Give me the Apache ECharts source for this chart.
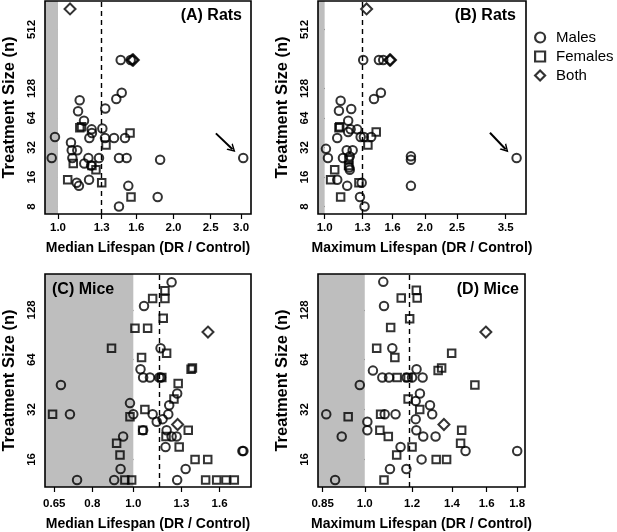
<!DOCTYPE html>
<html><head><meta charset="utf-8">
<script src="https://cdn.jsdelivr.net/npm/echarts@6/dist/echarts.min.js"></script>
<style>html,body{margin:0;padding:0;background:#fff}#c{width:617px;height:532px}</style>
</head><body><div id="c"></div>
<script>
// ---------- DATA (x = lifespan ratio DR/Control, n = treatment size) ----------
// (A) Rats, median lifespan
const ratsMedMalesX = [1.457, 1.547, 1.466, 1.419, 1.139, 1.128, 1.328, 1.169, 1.224, 1.226, 1.305, 0.982, 1.081, 1.207, 1.326, 1.400, 1.495, 1.086, 1.123, 0.963, 1.090, 1.200, 1.279, 1.442, 1.510, 1.846, 3.040, 1.171, 1.220, 1.119, 1.134, 1.205, 1.525, 1.819, 1.442];
const ratsMedMalesN = [250, 250, 116, 100, 97, 75, 80, 60, 49, 45, 50, 41, 36, 40, 40, 40, 40, 30, 30, 25, 25, 25, 25, 25, 25, 24, 25, 22, 21, 14, 13, 15, 13, 10, 8];
const ratsMedFemalesX = [1.140, 1.152, 1.541, 1.334, 1.096, 1.226, 1.256, 1.060, 1.300, 1.550];
const ratsMedFemalesN = [51, 52, 45, 34, 22, 21, 19, 15, 14, 10];
const ratsMedBothX = [1.075, 1.562, 1.572];
const ratsMedBothN = [830, 250, 250];
// (B) Rats, maximum lifespan
const ratsMaxMalesX = [1.306, 1.456, 1.500, 1.476, 1.407, 1.117, 1.104, 1.202, 1.177, 1.177, 1.197, 1.253, 1.091, 1.283, 1.312, 1.380, 1.009, 1.165, 1.214, 1.023, 1.135, 1.190, 1.186, 1.190, 1.091, 1.169, 1.292, 1.277, 1.318, 1.817, 1.817, 1.817, 3.776];
const ratsMaxMalesN = [250, 250, 250, 116, 100, 96, 76, 79, 60, 46, 49, 49, 40, 41, 41, 41, 31, 30, 30, 25, 25, 26, 20, 19, 15, 13, 14, 10, 8, 26, 24, 13, 25];
const ratsMaxFemalesX = [1.104, 1.110, 1.429, 1.349, 1.183, 1.180, 1.072, 1.042, 1.268, 1.117];
const ratsMaxFemalesN = [51, 52, 46, 34, 24, 21, 19, 15, 14, 10];
const ratsMaxBothX = [1.337, 1.568, 1.578];
const ratsMaxBothN = [830, 250, 250];
// (C) Mice, median lifespan
const miceMedMalesX = [1.232, 1.060, 1.160, 1.040, 1.055, 1.095, 1.152, 1.163, 0.674, 1.270, 1.216, 1.210, 1.173, 1.136, 1.111, 1.000, 0.982, 0.708, 1.199, 1.232, 1.266, 1.055, 0.946, 1.192, 1.812, 1.822, 0.933, 1.330, 0.736, 0.901, 1.270];
const miceMedMalesN = [188, 135, 75, 56, 50, 50, 50, 50, 45, 40, 34, 30, 28, 27, 30, 30, 35, 30, 24, 22, 22, 24, 22, 19, 18, 18, 14, 14, 12, 12, 12];
const miceMedFemalesX = [1.188, 1.111, 1.188, 1.177, 1.009, 1.081, 0.888, 1.046, 1.199, 1.370, 1.380, 1.168, 1.277, 1.248, 1.065, 0.644, 0.982, 1.052, 1.195, 1.349, 1.284, 0.913, 0.930, 1.400, 1.500, 0.955, 0.991, 1.483, 1.575, 1.657, 1.734];
const miceMedFemalesN = [167, 150, 150, 114, 99, 99, 75, 66, 70, 56, 57, 50, 46, 37, 32, 30, 29, 24, 22, 24, 19, 20, 17, 16, 16, 12, 12, 12, 12, 12, 12];
const miceMedBothX = [1.502, 1.273];
const miceMedBothN = [94, 26];
// (D) Mice, maximum lifespan
const miceMaxMalesX = [1.074, 1.077, 1.112, 1.032, 1.070, 1.098, 1.175, 1.200, 1.250, 1.221, 0.981, 1.237, 1.217, 1.286, 1.297, 1.217, 0.862, 1.080, 1.126, 1.010, 1.010, 1.220, 1.253, 1.314, 0.915, 1.148, 1.245, 1.475, 1.102, 1.174, 0.892, 1.800];
const miceMaxMalesN = [189, 135, 75, 55, 50, 50, 50, 50, 50, 56, 45, 40, 36, 34, 30, 28, 30, 30, 30, 27, 24, 24, 22, 22, 22, 19, 16, 18, 14, 14, 12, 18];
const miceMaxFemalesX = [1.220, 1.151, 1.224, 1.189, 1.105, 1.047, 1.123, 1.398, 1.327, 1.345, 1.133, 1.182, 1.529, 1.182, 1.236, 0.938, 1.063, 1.060, 1.095, 1.453, 1.447, 1.200, 1.131, 1.317, 1.371, 1.077];
const miceMaxFemalesN = [168, 151, 151, 113, 100, 75, 66, 70, 55, 57, 50, 50, 45, 37, 32, 29, 30, 24, 22, 24, 20, 19, 17, 16, 16, 12];
const miceMaxBothX = [1.595, 1.357];
const miceMaxBothN = [94, 26];

// reference lines (DR/Control) and outlier arrows [start, end] as [ratio, n]
const ratsMedDash = 1.3, ratsMaxDash = 1.3, miceMedDash = 1.15, miceMaxDash = 1.18;
const ratsMedArrow = [[2.58, 44.6], [2.85, 30.7]];
const ratsMaxArrow = [[3.14, 45.3], [3.50, 30.7]];

// tick values
const ratsMedTicks = [1.0, 1.3, 1.6, 2.0, 2.5, 3.0];
const ratsMaxTicks = [1.0, 1.3, 1.6, 2.0, 2.5, 3.5];
const miceMedTicks = [0.65, 0.8, 1.0, 1.3, 1.6];
const miceMaxTicks = [0.85, 1.0, 1.2, 1.4, 1.6, 1.8];
const ratsNTicks = [8, 16, 32, 64, 128, 512];
const miceNTicks = [16, 32, 64, 128];

const legendNames = ['Males', 'Females', 'Both'];
const panelTitles = ['(A) Rats', '(B) Rats', '(C) Mice', '(D) Mice'];
const xNames = ['Median Lifespan (DR / Control)', 'Maximum Lifespan (DR / Control)', 'Median Lifespan (DR / Control)', 'Maximum Lifespan (DR / Control)'];
const yName = 'Treatment Size (n)';

// ---------- LAYOUT / STYLE ----------
const FONT = '"Liberation Sans", Arial, Helvetica, sans-serif';
const lab = t => (Math.round(t * 100) % 10 ? t.toFixed(2) : t.toFixed(1));
const pts = (xs, ns) => xs.map((x, i) => [Math.log(x), Math.log2(ns[i])]);

const panels = [
  { grid: { left: 45, top: 1, width: 206, height: 213 }, xr: [0.925, 3.185], yr: [6.71, 1000], xt: ratsMedTicks, yt: ratsNTicks,
    m: [ratsMedMalesX, ratsMedMalesN], f: [ratsMedFemalesX, ratsMedFemalesN], b: [ratsMedBothX, ratsMedBothN], dash: ratsMedDash, arrow: ratsMedArrow, lm: 8, ng: 27 },
  { grid: { left: 318, top: 1, width: 208, height: 213 }, xr: [0.955, 4.03], yr: [6.71, 1000], xt: ratsMaxTicks, yt: ratsNTicks,
    m: [ratsMaxMalesX, ratsMaxMalesN], f: [ratsMaxFemalesX, ratsMaxFemalesN], b: [ratsMaxBothX, ratsMaxBothN], dash: ratsMaxDash, arrow: ratsMaxArrow, lm: 8, ng: 27 },
  { grid: { left: 45, top: 274, width: 206, height: 214 }, xr: [0.618, 1.899], yr: [10.9, 210.8], xt: miceMedTicks, yt: miceNTicks,
    m: [miceMedMalesX, miceMedMalesN], f: [miceMedFemalesX, miceMedFemalesN], b: [miceMedBothX, miceMedBothN], dash: miceMedDash, arrow: null, lm: 11, ng: 30 },
  { grid: { left: 318, top: 274, width: 207, height: 214 }, xr: [0.835, 1.855], yr: [10.9, 210.8], xt: miceMaxTicks, yt: miceNTicks,
    m: [miceMaxMalesX, miceMaxMalesN], f: [miceMaxFemalesX, miceMaxFemalesN], b: [miceMaxBothX, miceMaxBothN], dash: miceMaxDash, arrow: null, lm: 11, ng: 30 }
];

const titlePos = [
  { right: 617 - 242, top: 8 },
  { right: 617 - 516, top: 8 },
  { left: 52, top: 282 },
  { right: 617 - 519, top: 282 }
];

const hollow = { color: 'rgba(0,0,0,0)', borderColor: '#000', borderWidth: 2 };
const option = { animation: false, backgroundColor: '#fff', grid: [], xAxis: [], yAxis: [], series: [], title: [] };

panels.forEach((p, i) => {
  option.grid.push(Object.assign({ show: true, z: 5, backgroundColor: 'rgba(0,0,0,0)', borderColor: '#000', borderWidth: 1.6 }, p.grid));
  const xTickVals = p.xt.map(Math.log);
  option.xAxis.push({
    type: 'value', gridIndex: i, min: Math.log(p.xr[0]), max: Math.log(p.xr[1]),
    name: xNames[i], nameLocation: 'middle', nameGap: p.ng,
    nameTextStyle: { fontFamily: FONT, fontWeight: 'bold', fontSize: 14, color: '#000' },
    axisLine: { show: false }, splitLine: { show: false },
    axisTick: { show: true, length: 5, customValues: xTickVals, lineStyle: { color: '#000', width: 1.2 } },
    axisLabel: { customValues: xTickVals, margin: p.lm, fontFamily: FONT, fontWeight: 'bold', fontSize: 11.5, color: '#000',
      formatter: v => { let k = 0; xTickVals.forEach((t, j) => { if (Math.abs(t - v) < Math.abs(xTickVals[k] - v)) k = j; }); return lab(p.xt[k]); } }
  });
  const yTickVals = p.yt.map(Math.log2);
  option.yAxis.push({
    type: 'value', gridIndex: i, min: Math.log2(p.yr[0]), max: Math.log2(p.yr[1]),
    name: yName, nameLocation: 'middle', nameGap: 27, nameRotate: 90,
    nameTextStyle: { fontFamily: FONT, fontWeight: 'bold', fontSize: 16.5, color: '#000' },
    axisLine: { show: false }, splitLine: { show: false },
    axisTick: { show: true, length: 5, customValues: yTickVals, lineStyle: { color: '#000', width: 1.2 } },
    axisLabel: { customValues: yTickVals, rotate: 90, margin: 7, fontFamily: FONT, fontWeight: 'bold', fontSize: 11.5, color: '#000',
      formatter: v => String(Math.round(Math.pow(2, v))) }
  });
  const mlData = [{ xAxis: Math.log(p.dash), lineStyle: { type: [5, 4], width: 1.4, color: '#000' } }];
  if (p.arrow) {
    mlData.push([
      { coord: [Math.log(p.arrow[0][0]), Math.log2(p.arrow[0][1])], symbol: 'none' },
      { coord: [Math.log(p.arrow[1][0]), Math.log2(p.arrow[1][1])], symbol: 'path://M0,10 L5,0 L10,10 L8.2,10 L5,3.6 L1.8,10 Z', symbolSize: [9, 8], lineStyle: { type: 'solid', width: 2, color: '#000' } }
    ]);
  }
  option.series.push({
    type: 'scatter', name: 'bg' + i, xAxisIndex: i, yAxisIndex: i, data: [], z: 1, silent: true,
    markArea: { silent: true, itemStyle: { color: '#bebebe', opacity: 1 }, data: [[{ xAxis: Math.log(p.xr[0]) }, { xAxis: 0 }]] },
    markLine: { silent: true, symbol: ['none', 'none'], label: { show: false }, lineStyle: { color: '#000' }, data: mlData }
  });
  option.series.push({ type: 'scatter', name: 'Males', xAxisIndex: i, yAxisIndex: i, z: 3, silent: true, symbol: 'circle', symbolSize: 8.5, itemStyle: hollow, data: pts(p.m[0], p.m[1]) });
  option.series.push({ type: 'scatter', name: 'Females', xAxisIndex: i, yAxisIndex: i, z: 3, silent: true, symbol: 'rect', symbolSize: 7.5, itemStyle: hollow, data: pts(p.f[0], p.f[1]) });
  option.series.push({ type: 'scatter', name: 'Both', xAxisIndex: i, yAxisIndex: i, z: 3, silent: true, symbol: 'diamond', symbolSize: 11, itemStyle: hollow, data: pts(p.b[0], p.b[1]) });
  option.title.push(Object.assign({ text: panelTitles[i], padding: 0, textStyle: { fontFamily: FONT, fontWeight: 'bold', fontSize: 16, color: '#000' } }, titlePos[i]));
});

option.legend = {
  data: legendNames, orient: 'vertical', left: 534, top: 30, itemWidth: 10, itemHeight: 10, itemGap: 4,
  selectedMode: false, padding: 0,
  textStyle: { fontFamily: FONT, fontSize: 15, color: '#000', padding: [0, 0, 0, 6] },
  itemStyle: { color: 'rgba(0,0,0,0)', borderColor: '#000', borderWidth: 2.2 }
};

const chart = echarts.init(document.getElementById('c'), null, { renderer: 'canvas' });
chart.setOption(option);
</script></body></html>
